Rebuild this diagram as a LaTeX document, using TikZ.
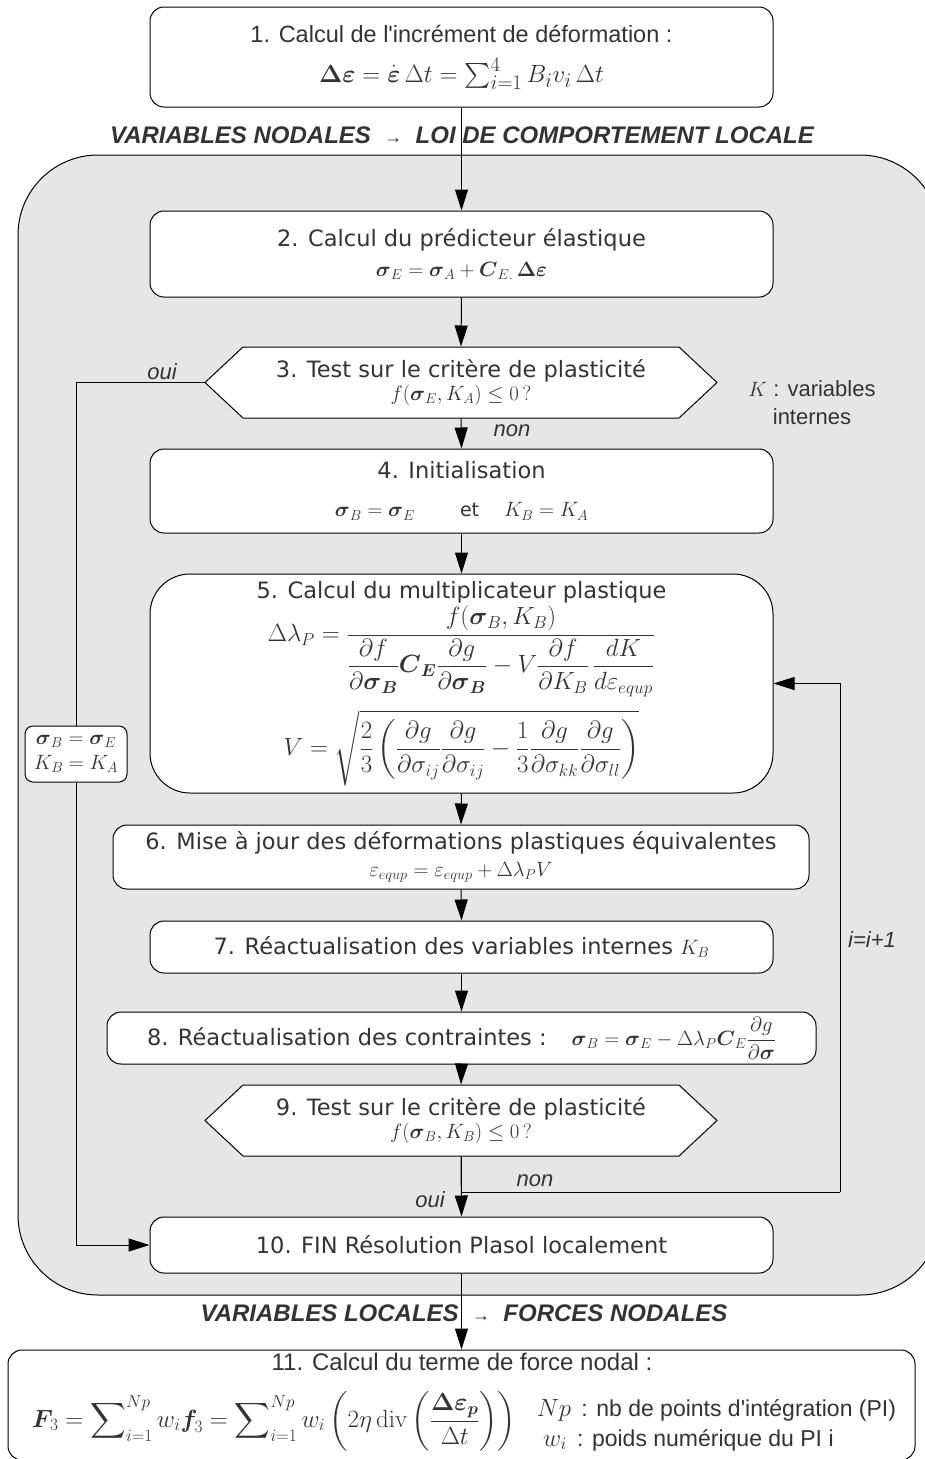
\documentclass[tikz,border=0pt]{standalone}
\usepackage{amsmath}
\usepackage[no-math]{fontspec}
\setmainfont{Liberation Sans}[Ligatures=TeXOff]
\newfontfamily\dvs{DejaVu Sans}[Ligatures=TeXOff]
\usetikzlibrary{arrows.meta}
\definecolor{texte}{HTML}{333333}
\definecolor{fond}{HTML}{E6E6E6}
\newcommand{\demil}{256}
% hexagone des tests, centre en (#1,#2)
\newcommand{\hexa}[2]{\draw[fill=white] (#1-\demil,#2) -- (#1-218,#2-35.5) -- (#1+218,#2-35.5)
  -- (#1+\demil,#2) -- (#1+218,#2+35.5) -- (#1-218,#2+35.5) -- cycle;}

\begin{document}
\begin{tikzpicture}[x=1pt, y=-1pt, line width=1pt,
  boite/.style={draw, rounded corners=14pt, fill=white, inner sep=0pt, align=center,
    text=texte, font=\dvs\fontsize{22.5}{30}\selectfont},
  test/.style={inner sep=0pt, minimum width=512pt, minimum height=71pt, align=center,
    text=texte, font=\dvs\fontsize{22.5}{23}\selectfont},
  fleche/.style={-{Triangle[length=21pt,width=13pt]}},
  titre/.style={text=texte, font=\bfseries\itshape\fontsize{24}{28}\selectfont},
  etiq/.style={text=texte, font=\itshape\fontsize{22}{26}\selectfont}]
\useasboundingbox (0,0) rectangle (925,1459);
\clip (0,0) rectangle (925,1459);

\draw[fill=fond, rounded corners=80pt] (18,155) rectangle (940,1295);

\node (b1) at (461.5,57) [boite, minimum width=623pt, minimum height=100pt,
  font=\fontsize{23.5}{35}\selectfont] {1. Calcul de l'incrément de déformation :\\[5pt]
  {\fontsize{28}{30}\selectfont $\boldsymbol{\Delta\varepsilon}=\dot{\boldsymbol{\varepsilon}}\,\Delta t=\sum_{i=1}^{4}B_i v_i\,\Delta t$}};
\node (titre1) at (462,135) [titre] {VARIABLES NODALES\ \ {\fontsize{18}{18}\selectfont →}\ \ LOI DE COMPORTEMENT LOCALE};

\node (b2) at (461.5,254) [boite, minimum width=623pt, minimum height=86pt] {2. Calcul du prédicteur élastique\\
  $\boldsymbol{\sigma}_E=\boldsymbol{\sigma}_A+\boldsymbol{C}_{E.}\,\boldsymbol{\Delta\varepsilon}$};

\hexa{461}{382.5}
\node (t3) at (461,382.5) [test] {3. Test sur le critère de plasticité\\ $f(\boldsymbol{\sigma}_E,K_A)\le 0\,?$};
\node (oui3) at (162,372) [etiq] {oui};
\node (non3) at (512,431) [etiq] {non};
\node (kint) at (812,403) [align=center, text=texte, font=\fontsize{22}{28}\selectfont] {$K$ : variables\\ internes};

\node (b4) at (461.5,491) [boite, minimum width=623pt, minimum height=84pt,
  font=\dvs\fontsize{22.5}{38}\selectfont] {4. Initialisation\\
  $\boldsymbol{\sigma}_B=\boldsymbol{\sigma}_E$\hspace{45pt}{\fontsize{19}{19}\selectfont et}\hspace{25pt}$K_B=K_A$};

\node (b5) at (461.5,683.5) [boite, rounded corners=40pt, minimum width=623pt, minimum height=219pt,
  font=\dvs\fontsize{22.5}{24}\selectfont] {5. Calcul du multiplicateur plastique\\[2pt]
  {\fontsize{24.5}{26}\selectfont $\Delta\lambda_P=\dfrac{f(\boldsymbol{\sigma}_B,K_B)}{\dfrac{\partial f}{\partial\boldsymbol{\sigma}_{\boldsymbol{B}}}\boldsymbol{C}_{\boldsymbol{E}}\dfrac{\partial g}{\partial\boldsymbol{\sigma}_{\boldsymbol{B}}}-V\dfrac{\partial f}{\partial K_B}\,\dfrac{dK}{d\varepsilon_{equp}}}$}\\[12pt]
  {\fontsize{24.5}{26}\selectfont $V=\sqrt{\dfrac{2}{3}\left(\dfrac{\partial g}{\partial\sigma_{ij}}\dfrac{\partial g}{\partial\sigma_{ij}}-\dfrac{1}{3}\dfrac{\partial g}{\partial\sigma_{kk}}\dfrac{\partial g}{\partial\sigma_{ll}}\right)}$}};

\node (init) at (76,754) [draw, rounded corners=8pt, fill=white, minimum width=102pt, minimum height=56pt,
  inner sep=0pt, align=center, text=texte, font=\fontsize{22}{25}\selectfont]
  {$\boldsymbol{\sigma}_B=\boldsymbol{\sigma}_E$\\ $K_B=K_A$};

\node (b6) at (461,857) [boite, minimum width=696pt, minimum height=64pt,
  font=\dvs\fontsize{22.5}{27}\selectfont] {6. Mise à jour des déformations plastiques équivalentes\\
  $\varepsilon_{equp}=\varepsilon_{equp}+\Delta\lambda_P V$};
\node (b7) at (461.5,947) [boite, minimum width=623pt, minimum height=52pt] {7. Réactualisation des variables internes $K_B$};
\node (b8) at (461.5,1038) [boite, minimum width=709pt, minimum height=52pt]
  {8. Réactualisation des contraintes :\hspace{25pt}$\boldsymbol{\sigma}_B=\boldsymbol{\sigma}_E-\Delta\lambda_P\boldsymbol{C}_E\dfrac{\partial g}{\partial\boldsymbol{\sigma}}$};

\hexa{461}{1120.5}
\node (t9) at (461,1120.5) [test] {9. Test sur le critère de plasticité\\ $f(\boldsymbol{\sigma}_B,K_B)\le 0\,?$};
\node (non9) at (535,1181) [etiq] {non};
\node (oui9) at (430,1200) [etiq] {oui};
\node (incr) at (872,940) [etiq] {i=i+1};

\node (b10) at (461.5,1245) [boite, minimum width=623pt, minimum height=56pt] {10. FIN Résolution Plasol localement};
\node (titre2) at (464,1313) [titre] {VARIABLES LOCALES\ \ {\fontsize{18}{18}\selectfont →}\ \ FORCES NODALES};

\node (b11) at (461.5,1405) [boite, minimum width=907pt, minimum height=110pt] {};
\node (t11) at (462,1362) [text=texte, font=\fontsize{24}{28}\selectfont] {11. Calcul du terme de force nodal :};
\node (f11) at (28,1421) [anchor=west, text=texte, font=\fontsize{25}{30}\selectfont]
  {$\displaystyle\boldsymbol{F}_{\!3}=\sum\nolimits_{i=1}^{Np}w_i\boldsymbol{f}_{\!3}=\sum\nolimits_{i=1}^{Np}w_i\left(2\eta\,\mathrm{div}\left(\frac{\boldsymbol{\Delta\varepsilon}_{\boldsymbol{p}}}{\Delta t}\right)\right)$};
\node (notes) at (533,1425) [anchor=west, align=left, text=texte, font=\fontsize{23}{30}\selectfont]
  {$Np$\, : nb de points d'intégration (PI)\\ \ $w_i$\, : poids numérique du PI i};

% fleches principales
\draw[fleche] (b1.south) -- (b2.north);
\draw[fleche] (b2.south) -- (t3.north);
\draw[fleche] (t3.south) -- (b4.north);
\draw[fleche] (b4.south) -- (b5.north);
\draw[fleche] (b5.south) -- (b6.north);
\draw[fleche] (b6.south) -- (b7.north);
\draw[fleche] (b7.south) -- (b8.north);
\draw[fleche] (b8.south) -- (t9.north);
\draw[fleche] (t9.south) -- (b10.north);
\draw[fleche] (b10.south) -- (b11.north);

% retours
\draw (t3.west) -| (init.north);
\draw[fleche] (init.south) |- (b10.west);
\coordinate (coin) at (840,1192);
\draw (t9.south) |- (coin);
\draw[fleche] (coin) |- (b5.east);
\end{tikzpicture}
\end{document}
